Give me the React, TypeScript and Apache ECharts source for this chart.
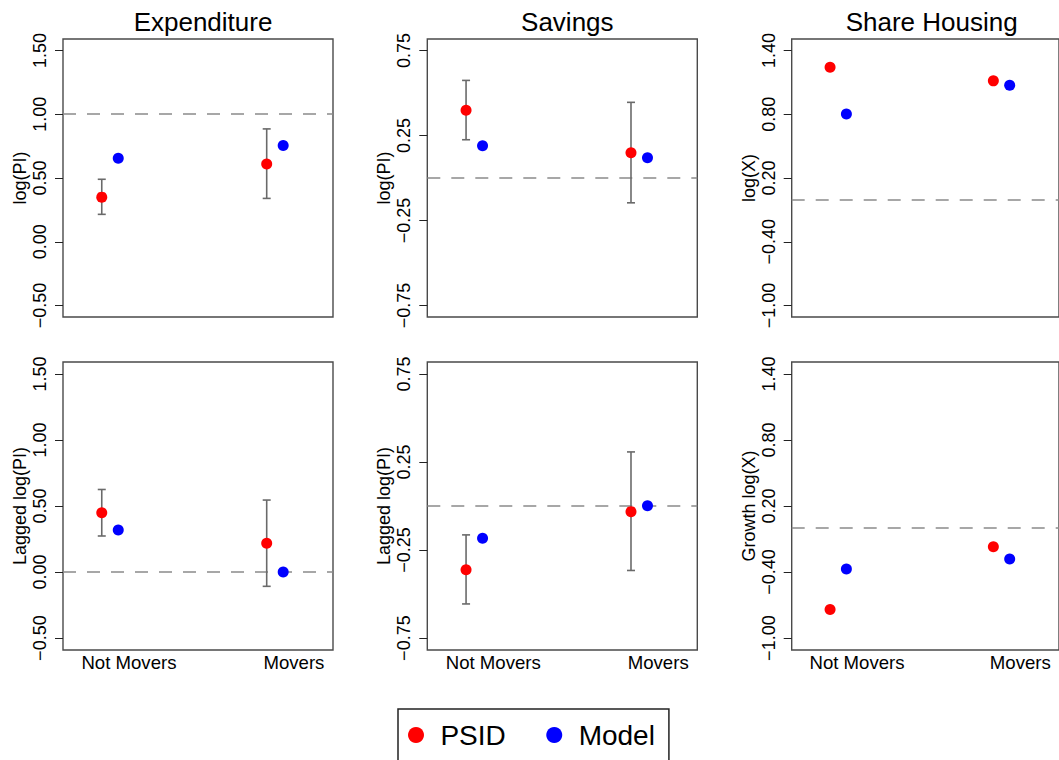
import React, { useEffect, useRef } from "react";
import * as echarts from "echarts";

// ---------- data ----------
const categories = ["Not Movers", "Movers"];
const panelTitles = ["Expenditure", "Savings", "Share Housing"];
const yNamesTop = ["log(PI)", "log(PI)", "log(X)"];
const yNamesBottom = ["Lagged log(PI)", "Lagged log(PI)", "Growth log(X)"];

// y tick labels per column
const ticksExp = [-0.5, 0, 0.5, 1.0, 1.5];
const ticksSav = [-0.75, -0.25, 0.25, 0.75];
const ticksHouse = [-1.0, -0.4, 0.2, 0.8, 1.4];

// x positions (category index 1, 2) for PSID and Model
const xPSID = [1, 2];
const xModel = [1.1, 2.1];

// Top row
const expTopPSID = [0.35, 0.61];
const expTopLow = [0.215, 0.34];
const expTopHigh = [0.49, 0.885];
const expTopModel = [0.655, 0.755];

const savTopPSID = [0.398, 0.148];
const savTopLow = [0.225, -0.146];
const savTopHigh = [0.574, 0.445];
const savTopModel = [0.19, 0.119];

const houseTopPSID = [1.243, 1.114];
const houseTopModel = [0.803, 1.073];

// Bottom row
const expBotPSID = [0.449, 0.218];
const expBotLow = [0.273, -0.108];
const expBotHigh = [0.625, 0.545];
const expBotModel = [0.319, 0.0];

const savBotPSID = [-0.362, -0.032];
const savBotLow = [-0.556, -0.366];
const savBotHigh = [-0.164, 0.307];
const savBotModel = [-0.183, 0.002];

const houseBotPSID = [-0.74, -0.171];
const houseBotModel = [-0.373, -0.282];

// reference (dashed) lines
const refTop = [1.0, 0.0, 0.0];
const refBottom = [0.0, 0.0, 0.0];

// ---------- layout ----------
const FONT = "Liberation Sans, Arial, Helvetica, sans-serif";
const colLeft = [63, 427.3, 791.7];
const colWidth = 270;
const rows = [
  { top: 39, height: 278 },
  { top: 362, height: 288 },
];
const X_MIN = 0.765;
const X_MAX = 2.402;
const labelX = [1.165, 2.165];
const PAD = 0.045;

function fmt(v: number) {
  const s = Math.abs(v).toFixed(2);
  return v < -1e-9 ? "\u2212" + s : s;
}

export default function App() {
  const ref = useRef<HTMLDivElement>(null);

  useEffect(() => {
    if (!ref.current) return;
    const chart = echarts.init(ref.current, undefined, { renderer: "svg" });

    const colTicks = [ticksExp, ticksSav, ticksHouse];
    const panels = [
      { psid: expTopPSID, low: expTopLow, high: expTopHigh, model: expTopModel },
      { psid: savTopPSID, low: savTopLow, high: savTopHigh, model: savTopModel },
      { psid: houseTopPSID, low: null, high: null, model: houseTopModel },
      { psid: expBotPSID, low: expBotLow, high: expBotHigh, model: expBotModel },
      { psid: savBotPSID, low: savBotLow, high: savBotHigh, model: savBotModel },
      { psid: houseBotPSID, low: null, high: null, model: houseBotModel },
    ];

    const grids: any[] = [];
    const xAxes: any[] = [];
    const yAxes: any[] = [];
    const series: any[] = [];

    for (let r = 0; r < 2; r++) {
      for (let c = 0; c < 3; c++) {
        const i = r * 3 + c;
        const ticks = colTicks[c];
        const lo = ticks[0];
        const hi = ticks[ticks.length - 1];
        const span = hi - lo;
        grids.push({
          left: colLeft[c],
          top: rows[r].top,
          width: colWidth,
          height: rows[r].height,
          show: true,
          borderColor: "#4a4a4a",
          borderWidth: 1.4,
          backgroundColor: "transparent",
          containLabel: false,
        });
        xAxes.push({
          type: "value",
          gridIndex: i,
          min: X_MIN,
          max: X_MAX,
          axisLine: { show: false },
          axisTick: { show: false },
          splitLine: { show: false },
          axisLabel: {
            show: r === 1,
            customValues: labelX,
            formatter: (v: number) => (v < 1.5 ? categories[0] : categories[1]),
            fontSize: 18.6,
            fontFamily: FONT,
            color: "#000",
            margin: 3,
          },
        });
        yAxes.push({
          type: "value",
          gridIndex: i,
          min: lo - PAD * span,
          max: hi + PAD * span,
          axisLine: { show: false },
          splitLine: { show: false },
          axisTick: {
            show: true,
            customValues: ticks,
            length: 8,
            lineStyle: { color: "#222", width: 1 },
          },
          axisLabel: {
            customValues: ticks,
            rotate: 90,
            formatter: (v: number) => fmt(v),
            fontSize: 18,
            fontFamily: FONT,
            color: "#000",
            margin: 14,
          },
          name: r === 0 ? yNamesTop[c] : yNamesBottom[c],
          nameLocation: "middle",
          nameGap: 34,
          nameTextStyle: { fontSize: 18, fontFamily: FONT, color: "#000" },
        });

        const p = panels[i];
        const refVal = r === 0 ? refTop[c] : refBottom[c];

        if (p.low && p.high) {
          const errData = xPSID.map((x, k) => [x, p.low![k], p.high![k]]);
          series.push({
            type: "custom",
            xAxisIndex: i,
            yAxisIndex: i,
            z: 1,
            silent: true,
            encode: { x: 0, y: [1, 2] },
            data: errData,
            renderItem: (_params: any, api: any) => {
              const b = api.coord([api.value(0), api.value(1)]);
              const t = api.coord([api.value(0), api.value(2)]);
              const cap = 4;
              const st = { stroke: "#6a6a6a", lineWidth: 1.6 };
              return {
                type: "group",
                children: [
                  { type: "line", shape: { x1: b[0], y1: b[1], x2: t[0], y2: t[1] }, style: st },
                  { type: "line", shape: { x1: b[0] - cap, y1: b[1], x2: b[0] + cap, y2: b[1] }, style: st },
                  { type: "line", shape: { x1: t[0] - cap, y1: t[1], x2: t[0] + cap, y2: t[1] }, style: st },
                ],
              };
            },
          });
        }

        series.push({
          name: "PSID",
          type: "scatter",
          xAxisIndex: i,
          yAxisIndex: i,
          z: 3,
          symbol: "circle",
          symbolSize: 11,
          itemStyle: { color: "#ff0000", opacity: 1 },
          data: xPSID.map((x, k) => [x, p.psid[k]]),
          markLine: {
            silent: true,
            symbol: ["none", "none"],
            label: { show: false },
            lineStyle: { type: [13, 11], color: "#8a8a8a", width: 1.6 },
            data: [{ yAxis: refVal }],
            z: 0,
          },
        });
        series.push({
          name: "Model",
          type: "scatter",
          xAxisIndex: i,
          yAxisIndex: i,
          z: 3,
          symbol: "circle",
          symbolSize: 11,
          itemStyle: { color: "#0000ff", opacity: 1 },
          data: xModel.map((x, k) => [x, p.model[k]]),
        });
      }
    }

    const titles = panelTitles.map((t, c) => ({
      text: t,
      left: colLeft[c] + colWidth / 2,
      top: 4,
      textAlign: "center",
      textStyle: { fontSize: 26, fontWeight: "normal", fontFamily: FONT, color: "#000" },
    }));

    chart.setOption({
      animation: false,
      backgroundColor: "#ffffff",
      title: titles,
      grid: grids,
      xAxis: xAxes,
      yAxis: yAxes,
      series,
      legend: {
        data: ["PSID", "Model"],
        left: 398,
        top: 709,
        orient: "horizontal",
        icon: "circle",
        itemWidth: 38.8,
        itemHeight: 16,
        itemGap: 40.5,
        padding: [12, 14, 40, 10],
        borderColor: "#222",
        borderWidth: 1.5,
        textStyle: { fontSize: 28, fontFamily: FONT, color: "#000" },
        selectedMode: false,
      },
    });

    return () => chart.dispose();
  }, []);

  return (
    <div
      ref={ref}
      style={{ position: "absolute", left: 0, top: 0, width: 1059, height: 760 }}
    />
  );
}
